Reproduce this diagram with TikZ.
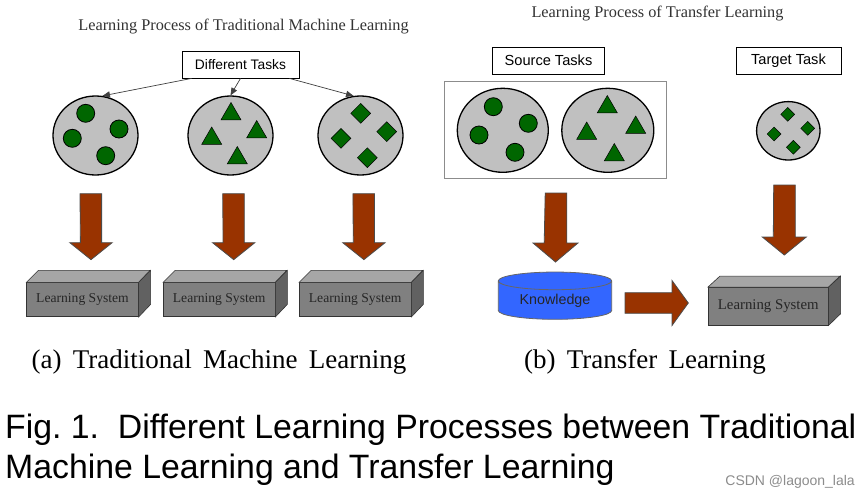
\documentclass[tikz,border=0pt]{standalone}
\usepackage{fontspec}
\setmainfont{Liberation Serif}
\setsansfont{Liberation Sans}
\usetikzlibrary{shapes,arrows}
\usetikzlibrary{calc,positioning}

\definecolor{taskgray}{RGB}{192,192,192}
\definecolor{objgreen}{RGB}{0,102,0}
\definecolor{arrowred}{RGB}{153,51,0}
\definecolor{knowblue}{RGB}{51,102,255}

\begin{document}
\begin{tikzpicture}[x=1pt,y=-1pt]
    \tikzstyle{task} = [ellipse, draw=black, line width=1.3pt, fill=taskgray, inner sep=0pt]
    \tikzstyle{dot} = [circle, draw=black, line width=0.8pt, fill=objgreen, minimum size=18pt, inner sep=0pt]
    \tikzstyle{tri} = [regular polygon, regular polygon sides=3, draw=black, line width=0.5pt, fill=objgreen, minimum size=23pt, inner sep=0pt]
    \tikzstyle{dia} = [diamond, draw=black, line width=0.5pt, fill=objgreen, minimum size=20pt, inner sep=0pt]
    \tikzstyle{tagbox} = [draw=black, line width=0.8pt, fill=white, font=\sffamily\fontsize{14.6}{14.6}\selectfont, inner sep=0pt, minimum height=27pt]
    \tikzstyle{front} = [draw=black!80, line width=0.6pt, fill=black!50, text=black!85, font=\fontsize{13.6}{13.6}\selectfont, inner sep=0pt, minimum height=34pt, minimum width=111.6pt]
    \tikzstyle{topface} = [draw=black!80, line width=0.6pt, fill=black!35]
    \tikzstyle{sideface} = [draw=black!80, line width=0.6pt, fill=black!62]
    \tikzstyle{bigarrow} = [draw=black!70, line width=0.8pt, fill=arrowred]
    \tikzstyle{thinarrow} = [draw=black!75, line width=0.7pt, -triangle 45]
    \tikzstyle{title} = [font=\fontsize{16.3}{16.3}\selectfont, text=black!80]

    \fill[white] (0,0) rectangle (865,501);
    \useasboundingbox (0,0) rectangle (865,501);

    % Traditional machine learning .........................
    \node[title] (ttl1) at (243.5,27) {Learning Process of Traditional Machine Learning};
    \node[tagbox, minimum width=117pt, font=\sffamily\fontsize{13.8}{13.8}\selectfont] (dt) at (240.5,64.5) {Different Tasks};

    \node[task, minimum width=85pt, minimum height=79pt] (t1) at (95.5,135.5) {};
    \node[task, minimum width=85pt, minimum height=79pt] (t2) at (230.5,135.5) {};
    \node[task, minimum width=85pt, minimum height=79pt] (t3) at (360.5,135.5) {};

	\draw[thinarrow] ($(dt.south west)+(10,0)$) -- (t1.80);
	\draw[thinarrow] (dt.south) -- (t2.north);
	\draw[thinarrow] ($(dt.south east)+(-10,0)$) -- (t3.100);

    \node[dot] (c1) at (85.7,113.3) {};
    \node[dot] (c2) at (119,129) {};
    \node[dot] (c3) at (72.3,138.3) {};
    \node[dot] (c4) at (105.7,155.7) {};

    \node[tri] (r1) at (231,114) {};
    \node[tri] (r2) at (211.7,138.5) {};
    \node[tri] (r3) at (256.7,132) {};
    \node[tri] (r4) at (237.3,158) {};

    \node[dia] (d1) at (360.7,113.3) {};
    \node[dia] (d2) at (341,138.3) {};
    \node[dia] (d3) at (386.7,131.7) {};
    \node[dia] (d4) at (367.3,157.7) {};

    \coordinate (a1) at ($(t1.south)+(-4.7,18)$);
    \coordinate (a2) at ($(t2.south)+(3,18)$);
    \coordinate (a3) at ($(t3.south)+(3.2,18)$);
    \draw[bigarrow] (a1) ++(-10.8,0) -- ++(21.6,0) -- ++(0,49) -- ++(10.6,0) -- ++(-21.2,17) -- ++(-21.2,-17) -- ++(10.6,0) -- cycle;
    \draw[bigarrow] (a2) ++(-10.8,0) -- ++(21.6,0) -- ++(0,49) -- ++(10.6,0) -- ++(-21.2,17) -- ++(-21.2,-17) -- ++(10.6,0) -- cycle;
    \draw[bigarrow] (a3) ++(-10.8,0) -- ++(21.6,0) -- ++(0,49) -- ++(10.6,0) -- ++(-21.2,17) -- ++(-21.2,-17) -- ++(10.6,0) -- cycle;

    \node[front] (ls1) at (82.5,299.7) {Learning System};
    \node[front] (ls2) at (219.2,299.7) {Learning System};
    \node[front] (ls3) at (355.2,299.7) {Learning System};
    \draw[topface] (ls1.north west) -- ++(12,-12) -- ++(111.6,0) -- (ls1.north east) -- cycle;
    \draw[sideface] (ls1.north east) -- ++(12,-12) -- ++(0,34) -- (ls1.south east) -- cycle;
    \draw[topface] (ls2.north west) -- ++(12,-12) -- ++(111.6,0) -- (ls2.north east) -- cycle;
    \draw[sideface] (ls2.north east) -- ++(12,-12) -- ++(0,34) -- (ls2.south east) -- cycle;
    \draw[topface] (ls3.north west) -- ++(12,-12) -- ++(111.6,0) -- (ls3.north east) -- cycle;
    \draw[sideface] (ls3.north east) -- ++(12,-12) -- ++(0,34) -- (ls3.south east) -- cycle;

    % Transfer learning .........................
    \node[title] (ttl2) at (657.5,14) {Learning Process of Transfer Learning};
    \node[tagbox, minimum width=111.6pt] (st) at (548.5,60.5) {Source Tasks};
    \node[tagbox, minimum width=105pt] (tt) at (788.5,60.5) {Target Task};

    \node[draw=black!45, line width=0.8pt, fill=white, minimum width=222.4pt, minimum height=97.3pt, inner sep=0pt] (src) at (555.5,129.7) {};
    \node[task, minimum width=91pt, minimum height=84pt] (s1) at (502.8,130.3) {};
    \node[task, minimum width=92pt, minimum height=84pt] (s2) at (607.8,130.3) {};
    \node[task, minimum width=63.4pt, minimum height=58.4pt] (tg) at (788.3,130.8) {};

    \node[dot] (sc1) at (493.3,106.7) {};
    \node[dot] (sc2) at (528.3,123.3) {};
    \node[dot] (sc3) at (479,135) {};
    \node[dot] (sc4) at (515,152.3) {};

    \node[tri] (sr1) at (607.3,107) {};
    \node[tri] (sr2) at (586.7,133.5) {};
    \node[tri] (sr3) at (635.7,127.5) {};
    \node[tri] (sr4) at (614.3,155) {};

    \node[dia, minimum size=14pt] (td1) at (787.7,114.3) {};
    \node[dia, minimum size=14pt] (td2) at (774,134) {};
    \node[dia, minimum size=14pt] (td3) at (807.7,128.3) {};
    \node[dia, minimum size=14pt] (td4) at (793.3,147.3) {};

    \node[cylinder, shape border rotate=90, aspect=0.25, draw=black!60, line width=0.8pt, fill=knowblue,
          minimum width=113.4pt, minimum height=47.3pt, inner sep=0pt,
          font=\sffamily\fontsize{14.3}{14.3}\selectfont, text=black!85] (kn) at (555,300.3) {Knowledge};

    \node[front, minimum width=120pt, minimum height=37.7pt, font=\fontsize{14.8}{14.8}\selectfont] (ls4) at (768.3,306.2) {Learning System};
    \draw[topface] (ls4.north west) -- ++(12,-11) -- ++(120,0) -- (ls4.north east) -- cycle;
    \draw[sideface] (ls4.north east) -- ++(12,-11) -- ++(0,37.7) -- (ls4.south east) -- cycle;

    \coordinate (a4) at (556,193);
    \coordinate (a5) at (784.5,185);
    \coordinate (a6) at (625,303);
    \draw[bigarrow] (a4) ++(-10.8,0) -- ++(21.6,0) -- ++(0,50) -- ++(11.2,0) -- ++(-22.5,19) -- ++(-22.5,-19) -- ++(11.2,0) -- cycle;
    \draw[bigarrow] (a5) ++(-10.8,0) -- ++(21.6,0) -- ++(0,52) -- ++(11,0) -- ++(-22,18) -- ++(-22,-18) -- ++(11,0) -- cycle;
    \draw[bigarrow] (a6) ++(0,-10.3) -- ++(47,0) -- ++(0,-12.2) -- ++(16.3,22.5) -- ++(-16.3,22.5) -- ++(0,-12.2) -- ++(-47,0) -- cycle;

    % Captions .........................
    \node[font=\fontsize{27}{27}\selectfont] (capa) at (219,362) {(a)\, Traditional\, Machine\, Learning};
    \node[font=\fontsize{27}{27}\selectfont] (capb) at (645,362) {(b)\, Transfer\, Learning};
    \node[anchor=west, font=\sffamily\fontsize{33.8}{33.8}\selectfont, inner sep=0pt] (fig1) at (5,430) {Fig.\ 1.\ \ Different Learning Processes between Traditional};
    \node[anchor=west, font=\sffamily\fontsize{33.8}{33.8}\selectfont, inner sep=0pt] (fig2) at (5,470) {Machine Learning and Transfer Learning};
    \node[anchor=east, font=\sffamily\fontsize{14}{14}\selectfont, text=black!45, inner sep=0pt] (mark) at (855,482) {CSDN @lagoon\_lala};

\end{tikzpicture}
\end{document}
